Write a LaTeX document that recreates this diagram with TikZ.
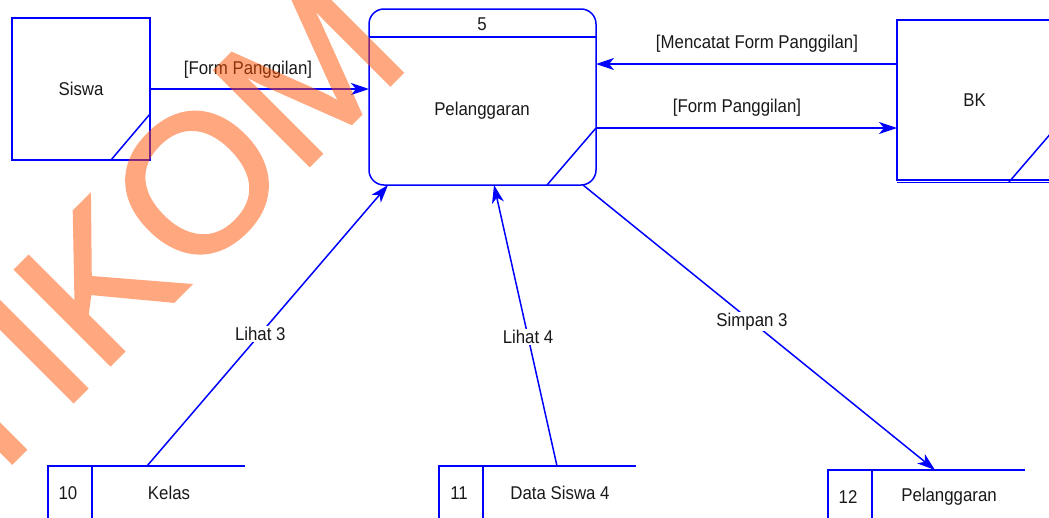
\documentclass[tikz,border=0pt]{standalone}
\usepackage{fontspec}
\setmainfont[FakeStretch=0.91]{Liberation Sans}
\newfontfamily\markfont[FakeBold=1.6]{Liberation Sans}
\usetikzlibrary{calc,arrows.meta}
\definecolor{dfdblue}{RGB}{0,0,255}
\definecolor{markorange}{RGB}{255,81,0}
\tikzset{
  dfd/.style={draw=dfdblue, line width=1.5pt},
  flow/.style={dfd, -{Stealth[length=18pt,width=12pt,inset=5pt]}},
  txt/.style={inner sep=1pt, text=black!90, font=\fontsize{18.5}{18.5}\selectfont},
  lbl/.style={txt, fill=white},
  entity/.style={dfd, txt, inner sep=0pt, outer sep=0pt},
}
% name, left x, top y, number, label
\newcommand{\datastore}[5]{
  \draw[dfd] (#2+197,#3) -- (#2,#3) -- (#2,#3+60);
  \draw[dfd] (#2+44,#3) -- (#2+44,#3+60);
  \node[txt] (#1no) at (#2+20,#3+27) {#4};
  \node[txt] (#1) at (#2+121,#3+27) {#5};
}
\begin{document}
\begin{tikzpicture}[x=1pt,y=-1pt]
\useasboundingbox (0,0) rectangle (1049,517);
% external entities
\node[entity, minimum width=138pt, minimum height=142pt] (siswa) at (81,89) {Siswa};
\draw[dfd] ([xshift=-39pt]siswa.south east) -- ([yshift=46pt]siswa.south east);
\node[entity, minimum width=155pt, minimum height=160pt] (bk) at (974.5,100) {BK};
\draw[dfd] ([xshift=-43pt,yshift=-2pt]bk.south east) -- ([yshift=48pt]bk.south east);
\draw[dfd] ([yshift=-2.5pt]bk.south west) -- ([yshift=-2.5pt]bk.south east);
% process 5
\node[dfd, rounded corners=15pt, inner sep=0pt, outer sep=0pt,
  minimum width=227pt, minimum height=176pt] (proc) at (482.5,97) {};
\draw[dfd] ([yshift=-28pt]proc.north west) -- ([yshift=-28pt]proc.north east);
\draw[dfd] ([xshift=-49pt]proc.south east) -- ([yshift=57pt]proc.south east);
\node[txt] (procno) at (482,24) {5};
\node[txt] (procname) at (482,111) {Pelanggaran};
% data stores
\datastore{kelas}{48}{466}{10}{Kelas}
\datastore{datasiswa}{439}{466}{11}{Data Siswa 4}
\datastore{pelstore}{828}{470}{12}{Pelanggaran}
\coordinate (kelastop) at (147,466);
\coordinate (datasiswatop) at (557,466);
\coordinate (pelstoretop) at (935,470);
% flows
\draw[flow] (siswa.east) -- (siswa.east -| proc.west);
\node[txt] (f1) at (248,70) {[Form Panggilan]};
\draw[flow] ([yshift=36pt]bk.west) -- ([yshift=36pt]bk.west -| proc.east);
\node[txt] (f2) at (757,44) {[Mencatat Form Panggilan]};
\draw[flow] ([yshift=-28pt]bk.west -| proc.east) -- ([yshift=-28pt]bk.west);
\node[txt] (f3) at (737,108) {[Form Panggilan]};
\draw[flow] (kelastop) -- node[lbl, pos=0.47] (f4) {Lihat 3} ([xshift=19pt]proc.south west);
\draw[flow] (datasiswatop) -- node[lbl, pos=0.46] (f5) {Lihat 4} ([xshift=125pt]proc.south west);
\draw[flow] ([xshift=214pt]proc.south west) -- node[lbl, pos=0.48] (f6) {Simpan 3} (pelstoretop);
% watermark
\begin{scope}[transparency group, opacity=0.5]
\node[text=markorange, rotate=45, anchor=base, inner sep=0pt,
  font=\markfont\fontsize{195}{195}\selectfont] (mark) at (149,326) {STIKOM};
\end{scope}
\end{tikzpicture}
\end{document}
